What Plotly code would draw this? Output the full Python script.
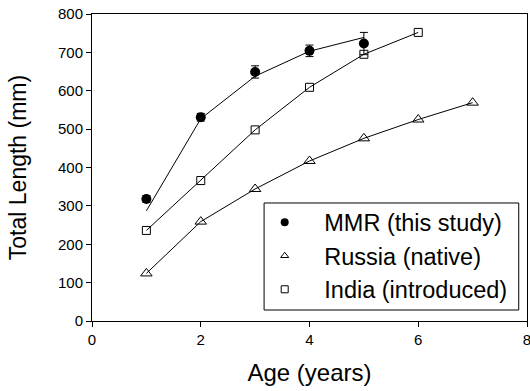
import plotly.graph_objects as go

# Data
ages_mmr = [1, 2, 3, 4, 5]
mmr_mean = [318, 531, 649, 704, 723]
mmr_err = [9, 10, 16, 15, 29]
mmr_fit = [287, 527, 638, 703, 739]

ages_russia = [1, 2, 3, 4, 5, 6, 7]
russia_len = [124, 259, 344, 417, 476, 525, 569]

ages_india = [1, 2, 3, 4, 5, 6]
india_len = [236, 366, 498, 609, 695, 752]

FONT = "Liberation Sans, Arial, Helvetica, sans-serif"
NB = "\u00a0\u00a0\u00a0"

fig = go.Figure()

# fitted / connecting lines
fig.add_trace(go.Scatter(x=ages_mmr, y=mmr_fit, mode="lines",
                         line=dict(color="black", width=1), showlegend=False, hoverinfo="skip"))
fig.add_trace(go.Scatter(x=ages_russia, y=russia_len, mode="lines",
                         line=dict(color="black", width=1), showlegend=False, hoverinfo="skip"))
fig.add_trace(go.Scatter(x=ages_india, y=india_len, mode="lines",
                         line=dict(color="black", width=1), showlegend=False, hoverinfo="skip"))

# markers
fig.add_trace(go.Scatter(x=ages_russia, y=russia_len, mode="markers", showlegend=False,
                         marker=dict(symbol="triangle-up-open", size=10, color="black",
                                     line=dict(width=1, color="black"))))
fig.add_trace(go.Scatter(x=ages_india, y=india_len, mode="markers", showlegend=False,
                         marker=dict(symbol="square-open", size=8, color="black",
                                     line=dict(width=1, color="black"))))
fig.add_trace(go.Scatter(x=ages_mmr, y=mmr_mean, mode="markers", showlegend=False,
                         error_y=dict(type="data", array=mmr_err, color="black",
                                      thickness=1, width=4),
                         marker=dict(symbol="circle", size=10, color="black")))

# legend entries
fig.add_trace(go.Scatter(x=[None], y=[None], mode="markers", name=NB + "MMR (this study)",
                         marker=dict(symbol="circle", size=8, color="black")))
fig.add_trace(go.Scatter(x=[None], y=[None], mode="markers", name=NB + "Russia (native)",
                         marker=dict(symbol="triangle-up-open", size=7, color="black",
                                     line=dict(width=1, color="black"))))
fig.add_trace(go.Scatter(x=[None], y=[None], mode="markers", name=NB + "India (introduced)",
                         marker=dict(symbol="square-open", size=7, color="black",
                                     line=dict(width=1, color="black"))))

axis_common = dict(showline=True, linecolor="black", linewidth=1, mirror=True,
                   ticks="outside", ticklen=5, tickwidth=1, tickcolor="black",
                   showgrid=False, zeroline=False, ticklabeloverflow="allow",
                   automargin=False,
                   tickfont=dict(family=FONT, size=15, color="black"))

fig.update_layout(
    width=530, height=391,
    margin=dict(l=92, r=3, t=14, b=70),
    paper_bgcolor="white", plot_bgcolor="white",
    font=dict(family=FONT, color="black"),
    xaxis=dict(range=[0, 8], tickvals=[0, 2, 4, 6, 8],
               title=dict(text="Age (years)", font=dict(family=FONT, size=24), standoff=17),
               **axis_common),
    yaxis=dict(range=[0, 800], tickvals=[0, 100, 200, 300, 400, 500, 600, 700, 800],
               title=dict(text="Total Length (mm)", font=dict(family=FONT, size=23), standoff=24),
               **axis_common),
    legend=dict(x=0.397, y=0.212, xanchor="left", yanchor="middle",
                borderwidth=0, bgcolor="rgba(0,0,0,0)",
                font=dict(family=FONT, size=23.5, color="black"),
                itemwidth=30, tracegroupgap=0),
    showlegend=True,
    shapes=[dict(type="rect", xref="paper", yref="paper",
                 x0=0.3956, x1=0.981, y0=0.0358, y1=0.3844,
                 line=dict(color="black", width=1), fillcolor="white", layer="below")],
)

fig.write_html("out.html")
